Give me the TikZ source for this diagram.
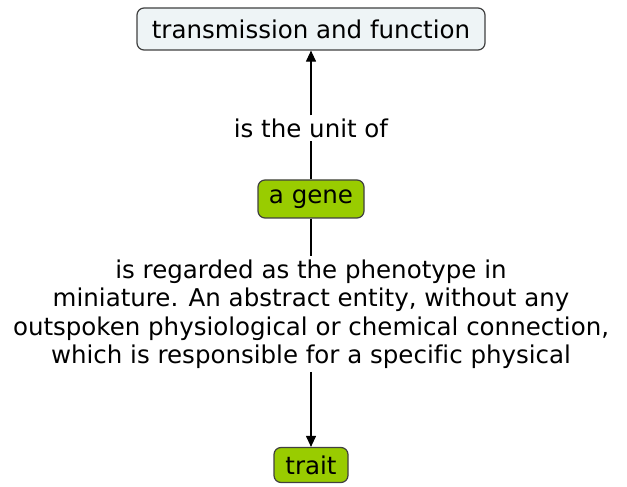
\documentclass[tikz,border=0pt]{standalone}
\usepackage{fontspec}
\setmainfont[Ligatures=NoCommon]{DejaVu Sans}
\usetikzlibrary{arrows.meta, positioning}
\definecolor{genegreen}{HTML}{99CC00}
\definecolor{topfill}{HTML}{EEF4F6}
\tikzstyle{concept} = [draw=black!75, line width=1.2pt, rounded corners=7pt, inner sep=0pt, font=\fontsize{24.5}{28.5}\selectfont]
\tikzstyle{linklabel} = [align=center, inner sep=3pt, font=\fontsize{24.5}{28.5}\selectfont]
\tikzstyle{link} = [line width=1.1pt, black]
\tikzstyle{arrow} = [line width=1.1pt, black, -{Triangle[length=11pt, width=10pt]}]

\begin{document}
\begin{tikzpicture}[x=1pt, y=1pt]
    \useasboundingbox (0,0) rectangle (627,487);

    % concepts
    \node (function) [concept, fill=topfill, minimum width=348pt, minimum height=42pt] at (311,458) {transmission and function};
    \node (gene) [concept, fill=genegreen, minimum width=106pt, minimum height=38pt] at (311,288) {a gene};
    \node (trait) [concept, fill=genegreen, minimum width=74pt, minimum height=35pt] at (311,22) {trait};

    % linking phrases
    \node (unitof) [linklabel] at (311,359) {is the unit of};
    \node (regarded) [linklabel] at (311,173) {is regarded as the phenotype in\\
    miniature. An abstract entity, without any\\
    outspoken physiological or chemical connection,\\
    which is responsible for a specific physical};

    % connectors
    \draw[link] (gene) -- (unitof);
    \draw[arrow] (unitof) -- (function);
    \draw[link] (gene) -- (regarded);
    \draw[arrow] (regarded) -- (trait);
\end{tikzpicture}
\end{document}
